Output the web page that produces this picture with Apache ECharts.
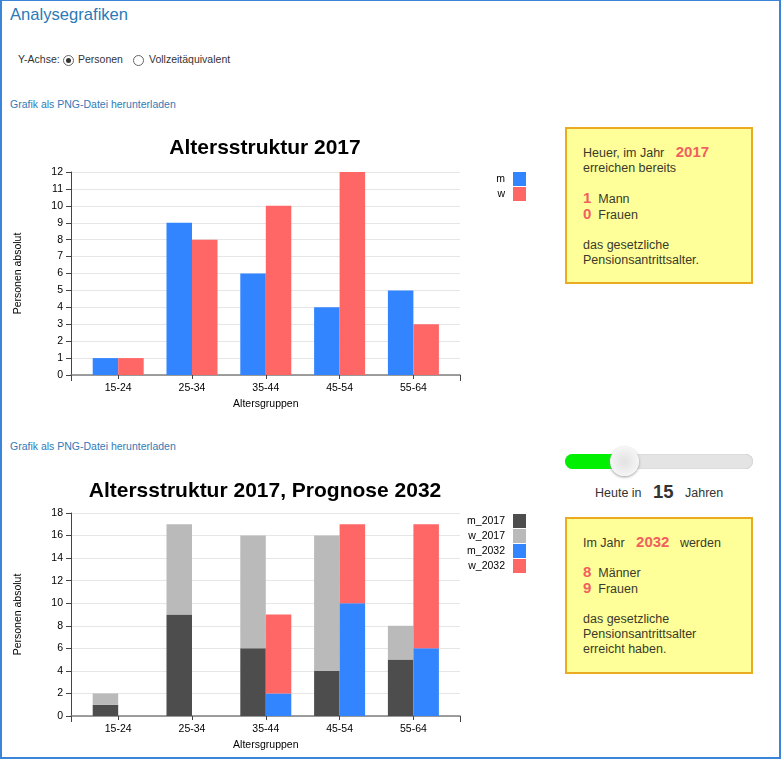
<!DOCTYPE html>
<html lang="de">
<head>
<meta charset="utf-8">
<title>Analysegrafiken</title>
<script src="https://cdn.jsdelivr.net/npm/echarts@6/dist/echarts.min.js"></script>
<style>
  html, body { margin: 0; padding: 0; background: #fff; }
  body { width: 781px; height: 759px; position: relative; overflow: hidden; font-family: "Liberation Sans", Arial, sans-serif; color: #333; }
  .frame { position: absolute; left: 0; top: 0; width: 781px; height: 759px; box-sizing: border-box; border: 2px solid #3a85d8; border-top-width: 1.5px; }
  .abs { position: absolute; white-space: nowrap; }
  .link { font-size: 10.5px; color: #337ab7; }
  .chart { position: absolute; left: 0; width: 560px; }
  .radio { position: absolute; width: 9px; height: 9px; border: 1px solid #666; border-radius: 50%; background: #fff; }
  .radio.on::after { content: ""; position: absolute; left: 2px; top: 2px; width: 5px; height: 5px; border-radius: 50%; background: #333; }
  .box { position: absolute; left: 565px; width: 184px; background: #ffff99; border: 2px solid #eaaa22; font-size: 12.5px; color: #3a3a2a; }
  .box div { position: absolute; left: 16px; white-space: nowrap; line-height: 15px; }
  .box b { color: #f0605f; font-size: 15px; }
  .track { position: absolute; left: 565px; top: 454px; width: 188px; height: 15px; border-radius: 8px; background: #e4e4e4; box-shadow: inset 0 0 1px #999; }
  .fill { position: absolute; left: 565px; top: 454px; width: 62px; height: 15px; border-radius: 8px 0 0 8px; background: #00f000; }
  .handle { position: absolute; left: 610px; top: 447px; width: 29px; height: 29px; border-radius: 50%; background: radial-gradient(circle, #e2e2e2 0%, #f2f2f2 60%, #fff 100%); box-shadow: 0 1px 3px #999; }
</style>
</head>
<body>
<div class="frame"></div>
<div class="abs" style="left:10px;top:5px;font-size:16.6px;color:#2a7ab8">Analysegrafiken</div>

<div class="abs" style="left:18px;top:53px;font-size:10.5px">Y-Achse:</div>
<div class="radio on" style="left:63px;top:55px"></div>
<div class="abs" style="left:78px;top:53px;font-size:10.5px">Personen</div>
<div class="radio" style="left:133px;top:55px"></div>
<div class="abs" style="left:149px;top:53px;font-size:10.5px">Vollzeitäquivalent</div>

<div class="abs link" style="left:10px;top:98px">Grafik als PNG-Datei herunterladen</div>
<div class="abs link" style="left:10px;top:440px">Grafik als PNG-Datei herunterladen</div>

<div id="chart1" class="chart" style="top:130px;height:290px"></div>
<div id="chart2" class="chart" style="top:471px;height:285px"></div>

<div class="box" style="top:127px;height:153px">
  <div style="top:15px">Heuer, im Jahr &nbsp;&nbsp;<b style="margin-left:1px">2017</b></div>
  <div style="top:32px">erreichen bereits</div>
  <div style="top:61px"><b>1</b>&nbsp; Mann</div>
  <div style="top:77px"><b>0</b>&nbsp; Frauen</div>
  <div style="top:109px">das gesetzliche</div>
  <div style="top:124px">Pensionsantrittsalter.</div>
</div>

<div class="track"></div>
<div class="fill"></div>
<div class="handle"></div>
<div class="abs" style="left:595px;top:486px;font-size:12.5px">Heute in</div>
<div class="abs" style="left:653px;top:481px;font-size:18.5px;font-weight:bold">15</div>
<div class="abs" style="left:685px;top:486px;font-size:12.5px">Jahren</div>

<div class="box" style="top:517px;height:153px">
  <div style="top:15px">Im Jahr &nbsp;&nbsp;<b style="margin-left:1px">2032</b>&nbsp;&nbsp; werden</div>
  <div style="top:45px"><b>8</b>&nbsp; Männer</div>
  <div style="top:61px"><b>9</b>&nbsp; Frauen</div>
  <div style="top:93px">das gesetzliche</div>
  <div style="top:108px">Pensionsantrittsalter</div>
  <div style="top:123px">erreicht haben.</div>
</div>

<script>
// Daten
const altersgruppen = ['15-24', '25-34', '35-44', '45-54', '55-64']
const m2017 = [1, 9, 6, 4, 5]
const w2017 = [1, 8, 10, 12, 3]
const m2032 = [0, 0, 2, 10, 6]
const w2032 = [0, 0, 7, 7, 11]

const BLUE = '#3385ff'
const RED = '#ff6666'
const DARK = '#4d4d4d'
const GREY = '#bababa'
const FONT = '"Liberation Sans", Arial, sans-serif'

// Rahmen-Raster (Achse 71-460) und inneres Raster fuer die Balken
function baseOption (title, top, titleTop, maxY, stepY, series, legendTop) {
  const height = 203
  return {
    animation: false,
    textStyle: { fontFamily: FONT },
    title: {
      text: title,
      left: 260,
      textAlign: 'center',
      top: titleTop,
      textStyle: { fontSize: 21, fontWeight: 'bold', color: '#000', fontFamily: FONT },
    },
    legend: {
      orient: 'vertical',
      align: 'right',
      right: 29,
      top: legendTop,
      itemWidth: 13,
      itemHeight: 14,
      itemGap: 1,
      textStyle: { fontSize: 10.5, color: '#000', padding: [0, 3, 0, 0] },
      data: series.map(s => ({ name: s.name, icon: 'rect' })),
    },
    grid: [
      { left: 71, top, width: 389, height },
      { left: 81.3, top, width: 369, height },
    ],
    xAxis: [
      {
        gridIndex: 0,
        type: 'value',
        min: 0,
        max: 1,
        interval: 1,
        axisLine: { show: true, lineStyle: { color: '#808080', width: 1.5 } },
        axisTick: { show: true, length: 6, lineStyle: { color: '#444' } },
        axisLabel: { show: false },
        splitLine: { show: false },
      },
      {
        gridIndex: 1,
        type: 'category',
        data: altersgruppen,
        name: 'Altersgruppen',
        nameLocation: 'middle',
        nameGap: 21,
        nameTextStyle: { fontSize: 10.5, color: '#000' },
        axisLine: { show: false },
        axisTick: { show: true, alignWithLabel: true, length: 4, lineStyle: { color: '#444' } },
        axisLabel: { fontSize: 10.5, color: '#000', margin: 8 },
      },
    ],
    yAxis: [
      {
        gridIndex: 0,
        type: 'value',
        min: 0,
        max: maxY,
        interval: stepY,
        name: 'Personen absolut',
        nameLocation: 'middle',
        nameGap: 47,
        nameTextStyle: { fontSize: 10.5, color: '#000' },
        axisLine: { show: true, lineStyle: { color: '#444' } },
        axisTick: { show: true, length: 5, lineStyle: { color: '#444' } },
        axisLabel: { fontSize: 10.5, color: '#000', margin: 8 },
        splitLine: { show: true, lineStyle: { color: '#e6e6e6', width: 1 } },
      },
      {
        gridIndex: 1,
        type: 'value',
        min: 0,
        max: maxY,
        interval: stepY,
        show: false,
      },
    ],
    series,
  }
}

function barSeries (name, data, color, stack) {
  return {
    name,
    type: 'bar',
    data,
    stack,
    xAxisIndex: 1,
    yAxisIndex: 1,
    barWidth: 25.5,
    barGap: 0,
    itemStyle: { color },
  }
}

const chart1 = echarts.init(document.getElementById('chart1'))
chart1.setOption(baseOption('Altersstruktur 2017', 42, 3, 12, 1, [
  barSeries('m', m2017, BLUE),
  barSeries('w', w2017, RED),
], 37))

const chart2 = echarts.init(document.getElementById('chart2'))
chart2.setOption(baseOption('Altersstruktur 2017, Prognose 2032', 42, 5, 18, 2, [
  barSeries('m_2017', m2017, DARK, 'ist'),
  barSeries('w_2017', w2017, GREY, 'ist'),
  barSeries('m_2032', m2032, BLUE, 'prognose'),
  barSeries('w_2032', w2032, RED, 'prognose'),
], 38))
</script>
</body>
</html>
